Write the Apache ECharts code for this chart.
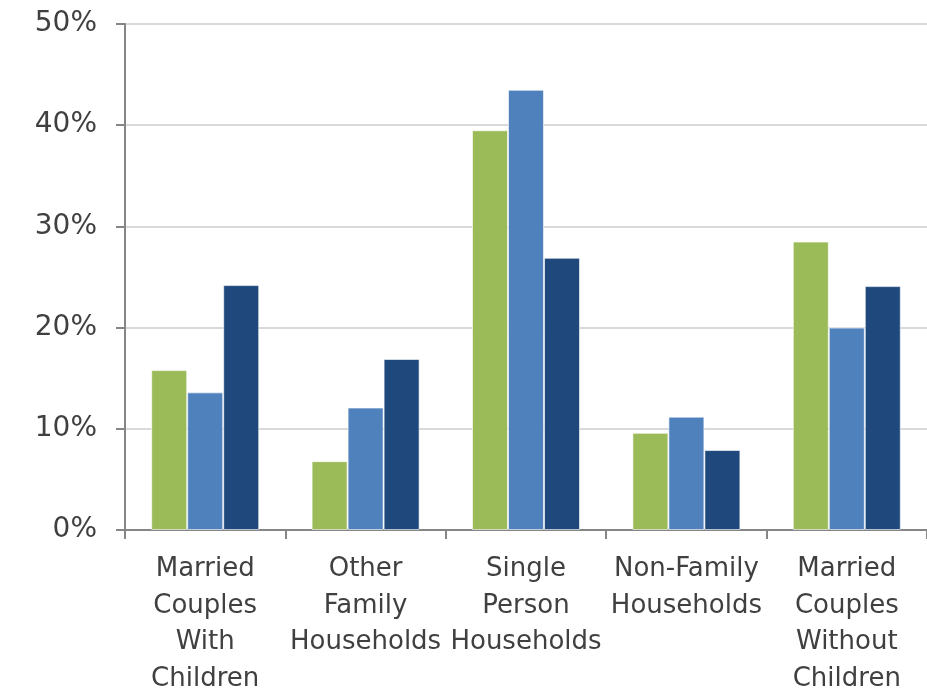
<!DOCTYPE html>
<html>
<head>
<meta charset="utf-8">
<script src="https://cdn.jsdelivr.net/npm/echarts@6/dist/echarts.min.js"></script>
<style>
  html, body { margin: 0; padding: 0; background: #fff; }
  #chart { width: 927px; height: 693px; }
</style>
</head>
<body>
<div id="chart"></div>
<script>
// categories (line breaks as in the picture)
var categories = [
  'Married\nCouples\nWith\nChildren',
  'Other\nFamily\nHouseholds',
  'Single\nPerson\nHouseholds',
  'Non-Family\nHouseholds',
  'Married\nCouples\nWithout\nChildren'
];
// three unnamed series, values in percent
var seriesGreen = [15.8, 6.8, 39.5, 9.6, 28.5];
var seriesBlue = [13.6, 12.1, 43.5, 11.2, 20.0];
var seriesNavy = [24.2, 16.9, 26.9, 7.9, 24.1];
var yTicks = [0, 10, 20, 30, 40, 50];

var colors = ['#9BBB59', '#4F81BD', '#1F497D'];
var font = 'DejaVu Sans';

function bar(data, color) {
  return {
    type: 'bar',
    data: data,
    barWidth: 36,
    barGap: '0%',
    itemStyle: { color: color, borderColor: 'rgba(255,255,255,0.6)', borderWidth: 1 }
  };
}

var chart = echarts.init(document.getElementById('chart'));
chart.setOption({
  animation: false,
  grid: { left: 125, right: 0, top: 24, bottom: 163, outerBoundsMode: 'none', containLabel: false },
  xAxis: {
    type: 'category',
    data: categories,
    axisLine: { lineStyle: { color: '#868686', width: 2 } },
    axisTick: { show: true, length: 9, lineStyle: { color: '#868686', width: 2 } },
    axisLabel: {
      interval: 0, margin: 21, color: '#404040',
      fontFamily: font, fontSize: 26, lineHeight: 36.5, align: 'center'
    }
  },
  yAxis: {
    type: 'value',
    min: yTicks[0],
    max: yTicks[yTicks.length - 1],
    interval: 10,
    axisLine: { show: true, lineStyle: { color: '#868686', width: 2 } },
    axisTick: { show: true, length: 9, lineStyle: { color: '#868686', width: 2 } },
    splitLine: { lineStyle: { color: '#D9D9D9', width: 2 } },
    axisLabel: {
      margin: 28, color: '#404040', fontFamily: font, fontSize: 28,
      formatter: function (v) { return v + '%'; }
    }
  },
  series: [
    bar(seriesGreen, colors[0]),
    bar(seriesBlue, colors[1]),
    bar(seriesNavy, colors[2])
  ]
});
</script>
</body>
</html>
